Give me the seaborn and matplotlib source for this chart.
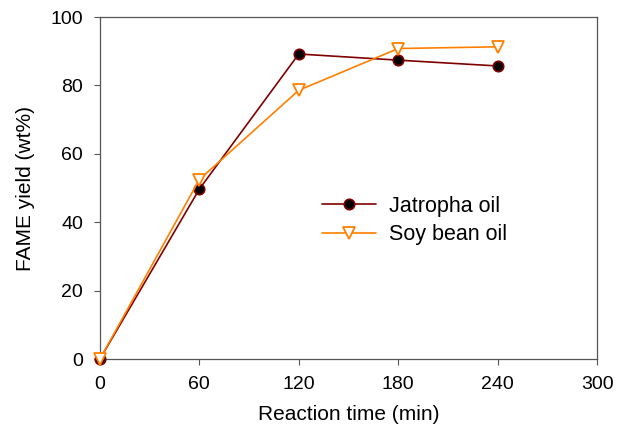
import pandas as pd
import matplotlib
matplotlib.use('Agg')
import matplotlib.pyplot as plt
import seaborn as sns

# --- data ---
time_min = [0, 60, 120, 180, 240]
jatropha = [0, 49.7, 89.2, 87.4, 85.7]
soybean = [0, 52.5, 78.6, 90.8, 91.3]

df = pd.DataFrame({'time': time_min, 'Jatropha oil': jatropha, 'Soy bean oil': soybean})

sns.set_style('white')
plt.rcParams['font.family'] = ['Liberation Sans', 'DejaVu Sans']
plt.rcParams['text.color'] = 'black'
plt.rcParams['axes.labelcolor'] = 'black'
plt.rcParams['xtick.color'] = 'black'
plt.rcParams['ytick.color'] = 'black'

fig = plt.figure(figsize=(6.24, 4.37), dpi=100)
ax = fig.add_axes([0.160, 0.178, 0.797, 0.783])

sns.lineplot(data=df, x='time', y='Jatropha oil', ax=ax, color='#800000', lw=1.2,
             marker='o', markersize=7.5, markerfacecolor='black', markeredgecolor='#800000',
             markeredgewidth=1.2, label='Jatropha oil', clip_on=False, zorder=3)
sns.lineplot(data=df, x='time', y='Soy bean oil', ax=ax, color='#FF8000', lw=1.2,
             marker='v', markersize=8, markerfacecolor='white', markeredgecolor='#FF8000',
             markeredgewidth=1.3, label='Soy bean oil', clip_on=False, zorder=4)

ax.set_xlim(0, 300)
ax.set_ylim(0, 100)
ax.set_xticks([0, 60, 120, 180, 240, 300])
ax.set_yticks([0, 20, 40, 60, 80, 100])
ax.set_xlabel('Reaction time (min)', fontsize=15, labelpad=9)
ax.set_ylabel('FAME yield (wt%)', fontsize=15, labelpad=11)
ax.tick_params(direction='out', length=4, width=0.8, labelsize=14, pad=8,
               bottom=True, left=True)
ax.tick_params(axis='both', which='major', color='#555555')
for s in ax.spines.values():
    s.set_color('#555555')
    s.set_linewidth(0.9)

ax.legend(loc='center left', bbox_to_anchor=(0.408, 0.405), frameon=False, fontsize=15.5,
          handlelength=2.5, labelspacing=0.35, handletextpad=0.6)

fig.savefig('out.png', dpi=100)
